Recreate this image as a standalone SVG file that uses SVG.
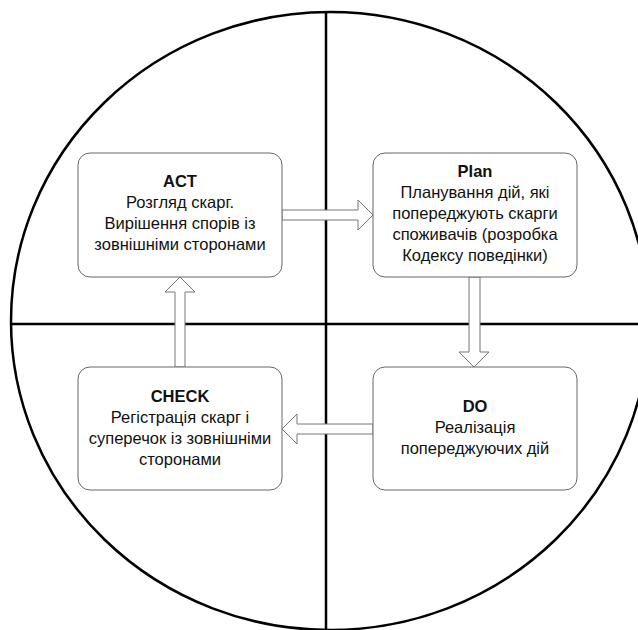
<svg xmlns="http://www.w3.org/2000/svg" width="638" height="630" viewBox="0 0 638 630">
  <style>
    .frame { fill: none; stroke: #000; stroke-width: 2.5; }
    .box { fill: #fff; stroke: #666; stroke-width: 1; }
    .arrow { fill: #fff; stroke: #777; stroke-width: 1; }
    text { font-family: "Liberation Sans", Arial, sans-serif; font-size: 16.5px; fill: #111; text-anchor: middle; }
    .title { font-weight: bold; }
  </style>
  <rect width="638" height="630" fill="#fff"/>

  <!-- quadrant frame -->
  <g id="frame">
    <ellipse class="frame" cx="330" cy="321" rx="319" ry="309"/>
    <line class="frame" x1="326" y1="12" x2="326" y2="630"/>
    <line class="frame" x1="12" y1="324" x2="638" y2="324"/>
  </g>

  <!-- block arrows between stages -->
  <g id="connectors">
    <path class="arrow" d="M282,210 H358 V200 L373,215 L358,230 V220 H282 Z"/>
    <path class="arrow" d="M469,277 V352 H459 L474,367 L489,352 H480 V277 Z"/>
    <path class="arrow" d="M373,424 H297 V414 L282,429 L297,444 V434 H373 Z"/>
    <path class="arrow" d="M175,367 V292 H165 L180,277 L195,292 H185 V367 Z"/>
  </g>

  <g id="act">
    <rect class="box" x="78" y="153" width="204" height="124" rx="12"/>
    <text x="180" y="187" class="title">ACT</text>
    <text x="180" y="208">Розгляд скарг.</text>
    <text x="180" y="229">Вирішення спорів із</text>
    <text x="180" y="250">зовнішніми сторонами</text>
  </g>

  <g id="plan">
    <rect class="box" x="373" y="153" width="204" height="124" rx="12"/>
    <text x="475" y="177" class="title">Plan</text>
    <text x="475" y="198">Планування дій, які</text>
    <text x="475" y="219">попереджують скарги</text>
    <text x="475" y="240">споживачів (розробка</text>
    <text x="475" y="261">Кодексу поведінки)</text>
  </g>

  <g id="do">
    <rect class="box" x="373" y="367" width="204" height="123" rx="12"/>
    <text x="475" y="412" class="title">DO</text>
    <text x="475" y="433">Реалізація</text>
    <text x="475" y="454">попереджуючих дій</text>
  </g>

  <g id="check">
    <rect class="box" x="78" y="367" width="204" height="123" rx="12"/>
    <text x="180" y="402" class="title">CHECK</text>
    <text x="180" y="423">Регістрація скарг і</text>
    <text x="180" y="444">суперечок із зовнішніми</text>
    <text x="180" y="465">сторонами</text>
  </g>
</svg>
